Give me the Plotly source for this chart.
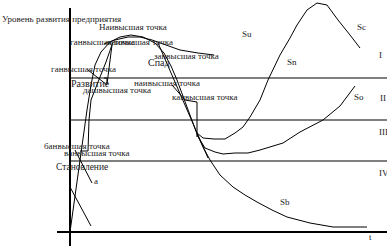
import plotly.graph_objects as go

# ---- data (diagram in its own coordinate system: t to the right, level downward = lower) ----
main_t = [70, 75, 80, 84, 87, 91, 95, 101, 110, 120, 131, 143, 155, 164, 171, 177, 183, 189, 194, 197]
main_v = [232, 195, 160, 130, 110, 85, 65, 52, 42, 37, 35, 37, 43, 53, 66, 80, 96, 112, 125, 134]

arc_t = [104, 115, 128, 140, 152, 165, 180, 198, 214]
arc_v = [44, 40, 37, 37, 40, 45, 50, 53, 55]

second_t = [113, 106, 98, 91, 89, 88, 80]
second_v = [42, 62, 82, 100, 120, 151, 151]

third_t = [112, 107, 107, 104]
third_v = [45, 84, 78, 78]

pointer_t = [88, 107]
pointer_v = [70, 85]

decline_t = [158, 208]
decline_v = [43, 158]

bracket_t = [172, 185, 197, 197]
bracket_v = [85, 100, 102, 137]

a_t = [75, 92]
a_v = [150, 183]

low_t = [70, 91]
low_v = [187, 226]

su_t = [197, 203, 214, 225, 235, 243, 250, 260, 268, 280, 290, 297, 307, 317, 327, 338, 350, 360]
su_v = [133, 138, 139, 139, 133, 127, 117, 100, 80, 55, 38, 25, 10, 3, 5, 20, 35, 48]

so_t = [197, 205, 215, 223, 235, 248, 260, 270, 283, 300, 323, 340, 355]
so_v = [135, 148, 152, 154, 153, 153, 150, 147, 143, 132, 120, 106, 86]

sb_t = [197, 203, 210, 220, 233, 245, 257, 272, 287, 310, 333, 350, 367]
sb_v = [134, 147, 160, 175, 187, 195, 202, 210, 217, 223, 227, 227, 227]

levels = [78, 120, 161]
roman = ["I", "II", "III", "IV"]
roman_y = [55, 98, 132, 173]

small_labels = ["Уровень развития предприятия", "Наивысшая точка", "ганвысшая точка", "наивысшая точка",
                "занвысшая точка", "ганвысшая точка", "дашвысшая точка", "наивысшая точка",
                "канвысшая точка", "банвысшая точка", "ванвысшая точка", "a", "t"]
small_x = [0, 97, 68, 105, 152, 49, 81, 132, 170, 42, 62, 92, 367]
small_y = [19, 27, 42, 42, 56, 69, 90, 83, 97, 146, 153, 181, 237]

big_labels = ["Спад", "Развитие", "Становление"]
big_x = [146, 69, 54]
big_y = [62, 83, 167]
big_size = [10, 10, 9.5]

curve_labels = ["Su", "Sc", "Sn", "So", "Sb"]
curve_x = [240, 355, 285, 352, 278]
curve_y = [34, 27, 62, 97, 202]

fig = go.Figure()

def line(x, y, color="black", width=1):
    fig.add_trace(go.Scatter(x=x, y=y, mode="lines", line=dict(color=color, width=width),
                             hoverinfo="skip", showlegend=False))

# level lines
for lv in levels:
    line([70, 387], [lv, lv], color="#555555", width=1.5)

# axes
line([70, 70], [8, 246], width=2)
line([57, 387], [232, 232], width=2)

for xs, ys in [(main_t, main_v), (arc_t, arc_v), (second_t, second_v), (third_t, third_v),
               (pointer_t, pointer_v), (decline_t, decline_v), (bracket_t, bracket_v),
               (a_t, a_v), (low_t, low_v), (su_t, su_v), (so_t, so_v), (sb_t, sb_v)]:
    line(xs, ys)

serif = "Liberation Serif"

def texts(labels, xs, ys, sizes):
    if not isinstance(sizes, list):
        sizes = [sizes] * len(labels)
    for lab, x, y, s in zip(labels, xs, ys, sizes):
        fig.add_annotation(x=x, y=y, text=lab, showarrow=False, xanchor="left", yanchor="middle",
                           font=dict(family=serif, size=s, color="#222222"))

texts(small_labels, small_x, small_y, 9)
texts(big_labels, big_x, big_y, big_size)
texts(curve_labels, curve_x, curve_y, 9)
texts(roman, [377, 378, 377, 377], roman_y, 9)

fig.update_layout(
    width=387, height=246, margin=dict(l=0, r=0, t=0, b=0),
    paper_bgcolor="white", plot_bgcolor="white",
    xaxis=dict(range=[0, 387], visible=False, fixedrange=True),
    yaxis=dict(range=[246, 0], visible=False, fixedrange=True),
)

fig.write_html("out.html")
